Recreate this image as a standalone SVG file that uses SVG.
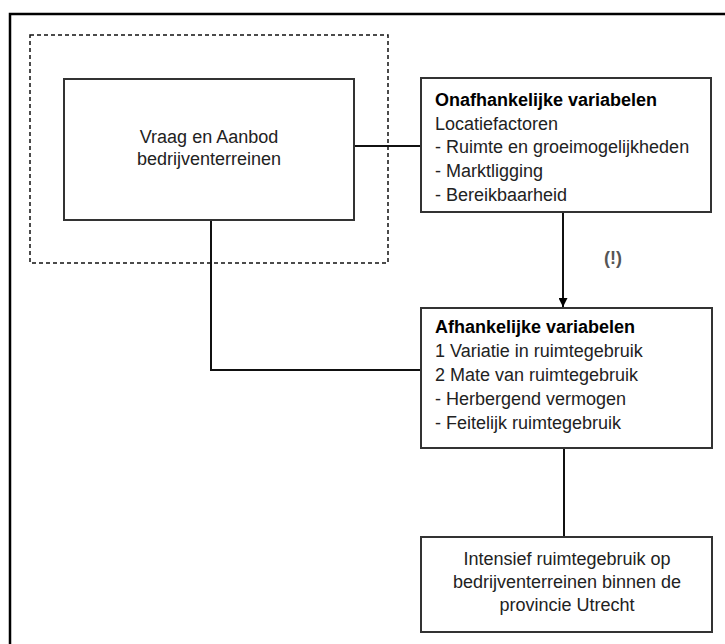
<svg xmlns="http://www.w3.org/2000/svg" width="725" height="644" viewBox="0 0 725 644">
<style>
.box{fill:#fff;stroke:#333;stroke-width:2}
.t{font-family:"Liberation Sans",Arial,sans-serif;font-size:18px;fill:#222}
.b{font-weight:bold;fill:#000}
.c{stroke:#111;stroke-width:2;fill:none}
</style>
<defs>
<marker id="arr" viewBox="0 0 10 10" refX="10" refY="5" markerWidth="4.5" markerHeight="4.5" orient="auto">
<path d="M0,0 L10,5 L0,10 z" fill="#000"/>
</marker>
</defs>
<rect width="725" height="644" fill="#fff"/>
<g id="frame">
<path d="M10,644 V14 H725" fill="none" stroke="#000" stroke-width="2.5"/>
</g>
<g id="connectors">
<line class="c" x1="354" y1="146" x2="421" y2="146"/>
<path class="c" d="M211,220 V370 H421"/>
<line class="c" x1="563" y1="212" x2="563" y2="307" marker-end="url(#arr)"/>
<line class="c" x1="564" y1="448" x2="564" y2="537"/>
<text x="613" y="264" text-anchor="middle" class="t b" style="fill:#555">(!)</text>
</g>
<g id="group-dashed">
<rect x="30" y="35" width="358" height="228" fill="none" stroke="#111" stroke-width="1.5" stroke-dasharray="4 3"/>
</g>
<g id="vraag">
<rect class="box" x="64" y="79" width="290" height="141"/>
<text class="t" text-anchor="middle" x="209" y="143">Vraag en Aanbod</text>
<text class="t" text-anchor="middle" x="209" y="165">bedrijventerreinen</text>
</g>
<g id="onafhankelijk">
<rect class="box" x="421" y="78" width="290" height="134"/>
<text class="t b" x="435" y="106">Onafhankelijke variabelen</text>
<text class="t" x="435" y="130">Locatiefactoren</text>
<text class="t" x="435" y="153">- Ruimte en groeimogelijkheden</text>
<text class="t" x="435" y="177">- Marktligging</text>
<text class="t" x="435" y="201">- Bereikbaarheid</text>
</g>
<g id="afhankelijk">
<rect class="box" x="421" y="308" width="291" height="140"/>
<text class="t b" x="435" y="333">Afhankelijke variabelen</text>
<text class="t" x="435" y="357">1 Variatie in ruimtegebruik</text>
<text class="t" x="435" y="381">2 Mate van ruimtegebruik</text>
<text class="t" x="435" y="405">- Herbergend vermogen</text>
<text class="t" x="435" y="429">- Feitelijk ruimtegebruik</text>
</g>
<g id="intensief">
<rect class="box" x="421" y="537" width="291" height="95"/>
<text class="t" text-anchor="middle" x="567" y="565">Intensief ruimtegebruik op</text>
<text class="t" text-anchor="middle" x="567" y="588">bedrijventerreinen binnen de</text>
<text class="t" text-anchor="middle" x="567" y="611">provincie Utrecht</text>
</g>
</svg>
